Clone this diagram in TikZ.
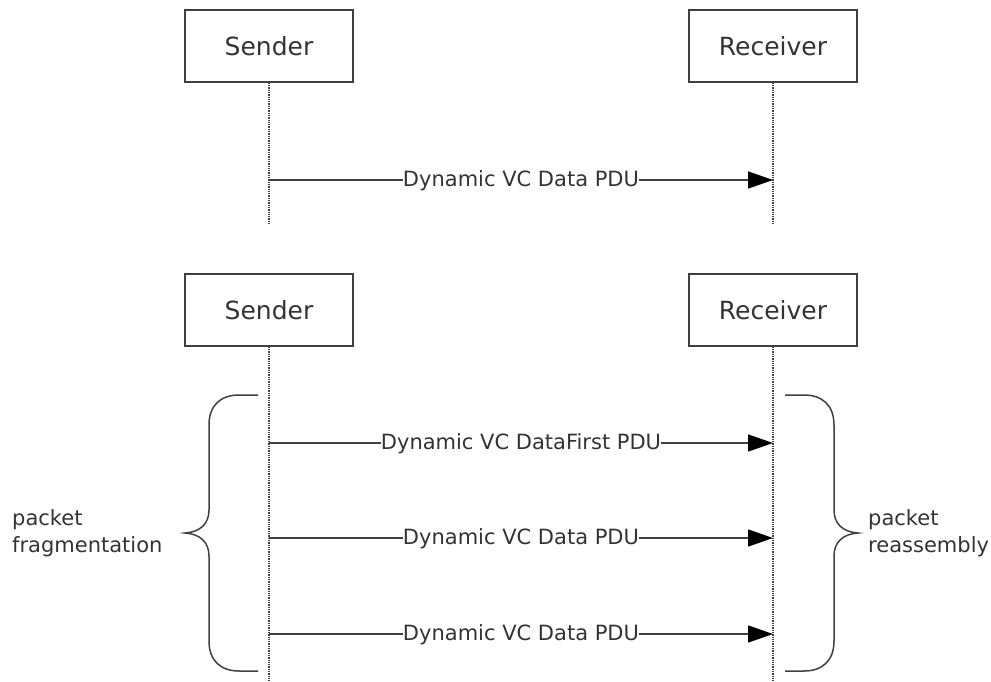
\documentclass[tikz,border=0pt]{standalone}
\usepackage{fontspec}
\setmainfont{DejaVu Sans}
\usetikzlibrary{arrows.meta}

\begin{document}
\begin{tikzpicture}[
	x=1pt, y=-1pt,
	partbox/.style={rectangle, draw=black!75, line width=1.5pt, minimum width=168pt, minimum height=72pt, font=\fontsize{25}{30}\selectfont, text=black!80},
	lifeline/.style={draw=black!75, line width=1.5pt, dash pattern=on 1.3pt off 1pt},
	msg/.style={draw=black!75, line width=1.5pt, -{Triangle[length=25pt,width=17pt,color=black]}},
	msglabel/.style={midway, anchor=base, yshift=-6pt, fill=white, inner xsep=0pt, inner ysep=1pt, font=\fontsize{21}{26}\selectfont, text=black!80},
	bracket/.style={draw=black!75, line width=1.5pt},
	bracelabel/.style={align=left, inner sep=0pt, font=\fontsize{21}{27}\selectfont, text=black!80},
	]
	\useasboundingbox (0,0) rectangle (991,681);
	%Nodes
	\node[partbox] (sender1)   at (269,46)  {Sender};
	\node[partbox] (receiver1) at (773,46)  {Receiver};
	\node[partbox] (sender2)   at (269,310) {Sender};
	\node[partbox] (receiver2) at (773,310) {Receiver};
	\coordinate (end1) at (0,225);
	\coordinate (end2) at (0,681);
	\node[bracelabel, anchor=west] (frag)  at (12,533)  {packet\\fragmentation};
	\node[bracelabel, anchor=west] (reasm) at (868,533) {packet\\reassembly};

	%Lifelines
	\draw[lifeline] (sender1.south)   -- (sender1 |- end1);
	\draw[lifeline] (receiver1.south) -- (receiver1 |- end1);
	\draw[lifeline] (sender2.south)   -- (sender2 |- end2);
	\draw[lifeline] (receiver2.south) -- (receiver2 |- end2);

	%Messages
	\draw[msg] (sender1 |- 0,180) -- node[msglabel] {Dynamic VC Data PDU} (receiver1 |- 0,180);
	\foreach \yy/\txt in {443/Dynamic VC DataFirst PDU, 538/Dynamic VC Data PDU, 634/Dynamic VC Data PDU}
		\draw[msg] (sender2 |- 0,\yy) -- node[msglabel] {\txt} (receiver2 |- 0,\yy);

	%Braces
	\draw[bracket] (258,395) -- (239,395) .. controls (221,395) and (209,405) .. (209,425) -- (209,510)
		.. controls (209,524) and (200,532) .. (185,533) .. controls (200,534) and (209,542) .. (209,556)
		-- (209,641) .. controls (209,661) and (221,671) .. (239,671) -- (258,671);
	\draw[bracket] (785,395) -- (804,395) .. controls (822,395) and (834,405) .. (834,425) -- (834,510)
		.. controls (834,524) and (843,532) .. (858,533) .. controls (843,534) and (834,542) .. (834,556)
		-- (834,641) .. controls (834,661) and (822,671) .. (804,671) -- (785,671);
\end{tikzpicture}
\end{document}
